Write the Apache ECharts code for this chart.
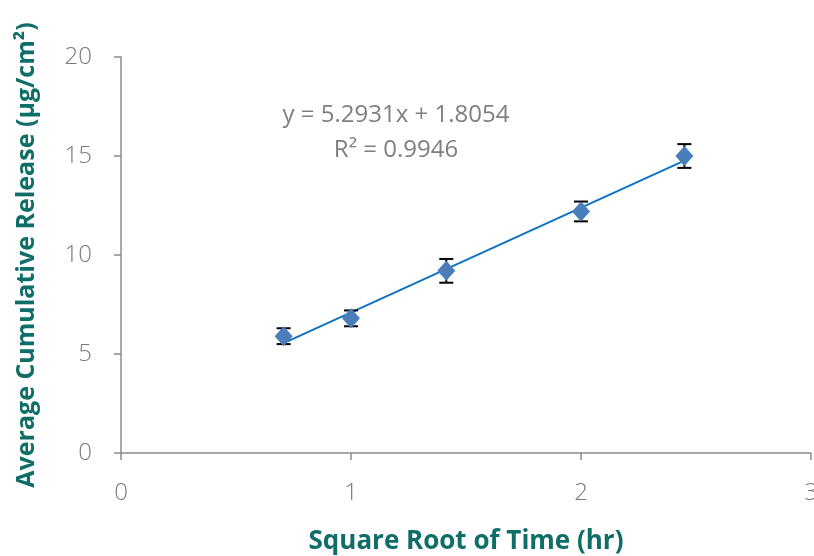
<!DOCTYPE html>
<html><head><meta charset="utf-8">
<script src="https://cdn.jsdelivr.net/npm/echarts@6/dist/echarts.min.js"></script>
<style>html,body{margin:0;padding:0;background:#fff}#c{width:814px;height:556px}</style>
</head><body><div id="c"></div>
<script>
const xValues = [0.7071, 1.0, 1.4142, 2.0, 2.4495];
const yValues = [5.9, 6.8, 9.2, 12.2, 15.0];
const yErrors = [0.4, 0.4, 0.6, 0.5, 0.6];
const slope = 5.2931, intercept = 1.8054;
const equationText = 'y = 5.2931x + 1.8054';
const r2Text = 'R² = 0.9946';
const xTicks = [0, 1, 2, 3];
const yTicks = [0, 5, 10, 15, 20];

const pts = xValues.map((x, i) => [x, yValues[i]]);
const errData = xValues.map((x, i) => [x, yValues[i] - yErrors[i], yValues[i] + yErrors[i]]);
const xMin = Math.min(...xValues), xMax = Math.max(...xValues);
const trend = [[xMin, slope * xMin + intercept], [xMax, slope * xMax + intercept]];

const chart = echarts.init(document.getElementById('c'), null, {renderer: 'canvas'});
const titleColor = '#0F6E68';
const labelColor = '#7A7A7A';
chart.setOption({
  animation: false,
  grid: {left: 121, right: 3, top: 57, bottom: 103, containLabel: false, outerBoundsMode: 'none'},
  xAxis: {
    type: 'value', min: 0, max: 3, interval: 1,
    name: 'Square Root of Time (hr)', nameLocation: 'middle', nameGap: 76,
    nameTextStyle: {color: titleColor, fontSize: 26, fontWeight: 'bold', fontFamily: 'Open Sans'},
    axisLine: {show: true, onZero: false, lineStyle: {color: '#8C8C8C', width: 1.5}},
    axisTick: {show: true, length: 7, lineStyle: {color: '#8C8C8C', width: 1.5}},
    axisLabel: {color: labelColor, fontSize: 24, fontFamily: 'Open Sans', fontWeight: 300, margin: 28},
    splitLine: {show: false}
  },
  yAxis: {
    type: 'value', min: 0, max: 20, interval: 5,
    name: 'Average Cumulative Release (µg/cm²)', nameLocation: 'middle', nameGap: 82,
    nameTextStyle: {color: titleColor, fontSize: 25, fontWeight: 'bold', fontFamily: 'Open Sans'},
    axisLine: {show: true, lineStyle: {color: '#8C8C8C', width: 1.5}},
    axisTick: {show: true, length: 7, lineStyle: {color: '#8C8C8C', width: 1.5}},
    axisLabel: {color: labelColor, fontSize: 24, fontFamily: 'Open Sans', fontWeight: 300, margin: 29},
    splitLine: {show: false}
  },
  series: [
    {
      type: 'line', data: trend, symbol: 'none',
      lineStyle: {color: '#0E72C4', width: 2}, z: 3
    },
    {
      type: 'custom', data: errData, z: 4,
      renderItem: function (params, api) {
        const x = api.value(0);
        const lo = api.coord([x, api.value(1)]);
        const hi = api.coord([x, api.value(2)]);
        const cap = 7;
        const st = {stroke: '#000', lineWidth: 2};
        return {type: 'group', children: [
          {type: 'line', shape: {x1: lo[0], y1: lo[1], x2: hi[0], y2: hi[1]}, style: st},
          {type: 'line', shape: {x1: lo[0] - cap, y1: lo[1], x2: lo[0] + cap, y2: lo[1]}, style: st},
          {type: 'line', shape: {x1: hi[0] - cap, y1: hi[1], x2: hi[0] + cap, y2: hi[1]}, style: st}
        ]};
      }
    },
    {
      type: 'scatter', data: pts, symbol: 'diamond', symbolSize: [18, 20],
      itemStyle: {color: '#4A7EBB', opacity: 1}, z: 5
    }
  ],
  graphic: [
    {type: 'text', style: {text: equationText, x: 396, y: 115, align: 'center', verticalAlign: 'middle', fill: '#7F7F7F', fontSize: 24, fontFamily: 'Open Sans', fontWeight: 'normal'}},
    {type: 'text', style: {text: r2Text, x: 396, y: 150, align: 'center', verticalAlign: 'middle', fill: '#7F7F7F', fontSize: 24, fontFamily: 'Open Sans', fontWeight: 'normal'}}
  ]
});
</script></body></html>
